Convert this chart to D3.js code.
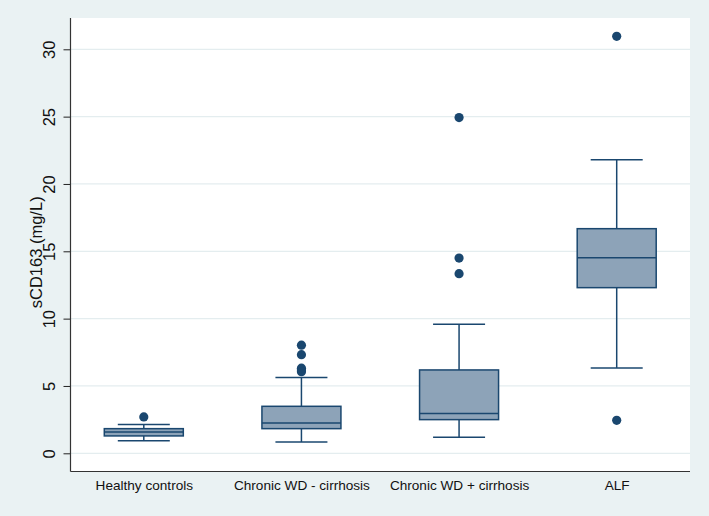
<!DOCTYPE html>
<html>
<head>
<meta charset="utf-8">
<script src="https://cdn.jsdelivr.net/npm/d3@7"></script>
<style>
  html, body { margin: 0; padding: 0; background: #eaf2f3; }
  svg { display: block; }
  text { font-family: "Liberation Sans", Arial, Helvetica, sans-serif; fill: #111; }
</style>
</head>
<body>
<svg id="chart" width="709" height="516"></svg>
<script>
const categories = ["Healthy controls", "Chronic WD - cirrhosis", "Chronic WD + cirrhosis", "ALF"];
const lowerWhisker = [0.94, 0.84, 1.19, 6.34];
const q1 = [1.29, 1.83, 2.50, 12.30];
const median = [1.58, 2.25, 2.95, 14.53];
const q3 = [1.83, 3.49, 6.19, 16.68];
const upperWhisker = [2.13, 5.62, 9.58, 21.8];
const outliers = [
  [2.70],
  [8.03, 7.32, 6.32, 6.18, 6.06],
  [24.93, 14.5, 13.34],
  [30.96, 2.45]
];
const yTicks = [0, 5, 10, 15, 20, 25, 30];
const yTitle = "sCD163 (mg/L)";

const W = 709, H = 516;
const plot = { left: 70.5, right: 690, top: 18, bottom: 471.5 };
const navy = "#1a476f";
const boxFill = "#8da3b8";

const svg = d3.select("#chart");
svg.append("rect").attr("width", W).attr("height", H).attr("fill", "#eaf2f3");
svg.append("rect")
  .attr("x", plot.left).attr("y", plot.top)
  .attr("width", plot.right - plot.left).attr("height", plot.bottom - plot.top)
  .attr("fill", "#ffffff");

const y = d3.scaleLinear().domain([0, 30]).range([453.3, 49.3]);
const x = d3.scalePoint().domain(categories).range([plot.left, plot.right]).padding(0.465);

// gridlines
svg.append("g").selectAll("line").data(yTicks).join("line")
  .attr("x1", plot.left).attr("x2", plot.right)
  .attr("y1", d => y(d)).attr("y2", d => y(d))
  .attr("stroke", "#e4edef").attr("stroke-width", 1.2);

// y axis
const yAxis = d3.axisLeft(y).tickValues(yTicks).tickSize(7).tickPadding(0).tickFormat(d3.format("d"));
const gy = svg.append("g").attr("transform", `translate(${plot.left},0)`).call(yAxis);
gy.select(".domain").remove();
gy.selectAll(".tick line").attr("stroke", "#222");
gy.selectAll(".tick text")
  .attr("x", null).attr("dy", null)
  .attr("text-anchor", "middle")
  .attr("transform", "translate(-15.5,0) rotate(-90)")
  .attr("font-size", 16.5)
  .attr("font-family", "'Liberation Sans', Arial, sans-serif")
  .attr("fill", "#111");
svg.append("line")
  .attr("x1", plot.left).attr("x2", plot.left)
  .attr("y1", plot.top).attr("y2", plot.bottom)
  .attr("stroke", "#333").attr("stroke-width", 1.2);

// x axis
const xAxis = d3.axisBottom(x).tickSize(0).tickPadding(0);
const gx = svg.append("g").attr("transform", `translate(0,${plot.bottom})`).call(xAxis);
gx.select(".domain").remove();
gx.selectAll(".tick text")
  .attr("y", 18).attr("dy", null)
  .attr("font-size", 13.6)
  .attr("font-family", "'Liberation Sans', Arial, sans-serif")
  .attr("fill", "#111");
svg.append("line")
  .attr("x1", plot.left).attr("x2", plot.right)
  .attr("y1", plot.bottom).attr("y2", plot.bottom)
  .attr("stroke", "#333").attr("stroke-width", 1.2);

// y title
svg.append("text")
  .attr("transform", `translate(41.5,${(y(0) + y(30)) / 2 + 1}) rotate(-90)`)
  .attr("text-anchor", "middle")
  .attr("font-size", 16.5)
  .text(yTitle);

// boxes
const boxW = 79, capW = 52;
const data = categories.map((c, i) => ({
  c, lw: lowerWhisker[i], q1: q1[i], med: median[i], q3: q3[i], uw: upperWhisker[i], out: outliers[i]
}));
const g = svg.append("g");
data.forEach(d => {
  const cx = x(d.c);
  // whiskers
  g.append("line").attr("x1", cx).attr("x2", cx).attr("y1", y(d.q3)).attr("y2", y(d.uw))
    .attr("stroke", navy).attr("stroke-width", 1.5);
  g.append("line").attr("x1", cx).attr("x2", cx).attr("y1", y(d.q1)).attr("y2", y(d.lw))
    .attr("stroke", navy).attr("stroke-width", 1.5);
  g.append("line").attr("x1", cx - capW / 2).attr("x2", cx + capW / 2).attr("y1", y(d.uw)).attr("y2", y(d.uw))
    .attr("stroke", navy).attr("stroke-width", 1.5);
  g.append("line").attr("x1", cx - capW / 2).attr("x2", cx + capW / 2).attr("y1", y(d.lw)).attr("y2", y(d.lw))
    .attr("stroke", navy).attr("stroke-width", 1.5);
  // box
  g.append("rect").attr("x", cx - boxW / 2).attr("width", boxW)
    .attr("y", y(d.q3)).attr("height", y(d.q1) - y(d.q3))
    .attr("fill", boxFill).attr("stroke", navy).attr("stroke-width", 1.5);
  g.append("line").attr("x1", cx - boxW / 2).attr("x2", cx + boxW / 2).attr("y1", y(d.med)).attr("y2", y(d.med))
    .attr("stroke", navy).attr("stroke-width", 1.5);
  // outliers
  g.selectAll(null).data(d.out).join("circle")
    .attr("cx", cx).attr("cy", v => y(v)).attr("r", 4.6).attr("fill", navy);
});
</script>
</body>
</html>
